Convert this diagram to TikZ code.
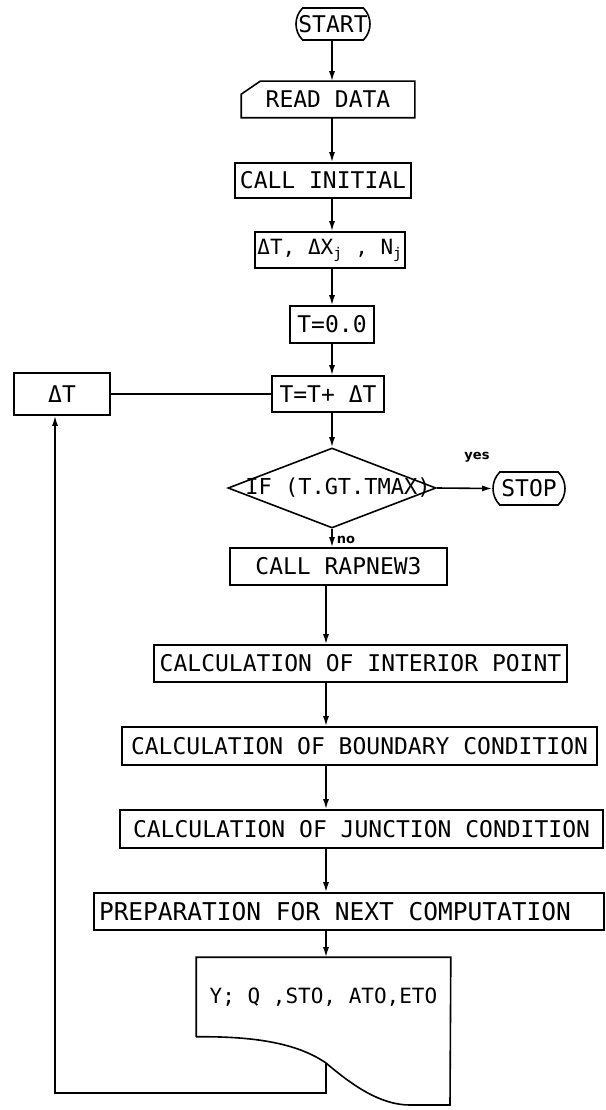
\documentclass[tikz,border=0pt]{standalone}
\usepackage{fontspec}
\setmainfont{DejaVu Sans Mono}
\newfontfamily\handfont{DejaVu Sans}
\usetikzlibrary{arrows.meta,shapes.geometric,shapes.misc}
\begin{document}
\begin{tikzpicture}[x=1pt,y=-1pt,
  wire/.style={line width=1.6pt},
  flow/.style={wire,-{Latex[length=10pt,width=6pt]}},
  box/.style={draw,wire,inner sep=0pt,font=\fontsize{23}{26}\selectfont},
  term/.style={box,rounded rectangle,rounded rectangle arc length=90},
  tag/.style={font=\handfont\bfseries\fontsize{13}{15}\selectfont}]
\useasboundingbox (0,0) rectangle (605,1110);
\coordinate (spine) at (332,0);
\coordinate (lowspine) at (326,0);
\node[term,minimum width=74,minimum height=32] (start) at (333,24) {START};
\node[box,draw=none,minimum width=172,minimum height=35] (read) at (328,99.5) {READ DATA};
\draw[wire] ([yshift=-13pt]read.north west) -- ([xshift=19pt]read.north west)
  -- (read.north east) -- (read.south east) -- (read.south west) -- cycle;
\node[box,minimum width=176,minimum height=35] (init) at (323,180.5) {CALL INITIAL};
\node[box,minimum width=150,minimum height=36,font=\fontsize{21}{24}\selectfont] (steps)
  at (330,250) {ΔT, ΔX\textsubscript{j} , N\textsubscript{j}};
\node[box,minimum width=84,minimum height=37] (tzero) at (332,324.5) {T=0.0};
\node[box,minimum width=112,minimum height=36] (tinc) at (328,394) {T=T+ ΔT};
\node[box,minimum width=96,minimum height=42] (dt) at (62,394) {ΔT};
\node[diamond,draw,wire,inner sep=0pt,minimum width=208,minimum height=80] (cond) at (332,488) {};
\node[font=\fontsize{22}{25}\selectfont] (condtext) at (338,488) {IF (T.GT.TMAX)};
\node[term,minimum width=72,minimum height=33] (stop) at (529,488.5) {STOP};
\node[tag] (yes) at (477,457) {yes};
\node[tag] (no) at (346,540) {no};
\node[box,minimum width=217,minimum height=37] (rap) at (338.5,566.5) {CALL RAPNEW3};
\node[box,minimum width=413,minimum height=37] (inter) at (360.5,663.5) {CALCULATION OF INTERIOR POINT};
\node[box,minimum width=475,minimum height=38] (bound) at (359.5,746) {CALCULATION OF BOUNDARY CONDITION};
\node[box,minimum width=483,minimum height=38] (junc) at (361.5,829) {CALCULATION OF JUNCTION CONDITION};
\node[box,inner xsep=5pt,minimum height=37,font=\fontsize{24.5}{27}\selectfont]
  (prep) at (349,911.5) {\makebox[500pt][l]{PREPARATION FOR NEXT COMPUTATION}};
\node[box,draw=none,minimum width=253,minimum height=78,font=\fontsize{21}{24}\selectfont]
  (out) at (323.5,997) {Y; Q ,STO, ATO,ETO};
\coordinate (wave) at (326,1063);
\coordinate (back) at (55,1093);
\draw[wire] (out.south west) -- (out.north west) -- (out.north east) -- (450,1105) -- (410,1105)
  .. controls (380,1105) and (352,1085) .. (wave)
  .. controls (300,1045) and (260,1036) .. (out.south west);
\draw[flow] (start.south -| spine) -- (read.north -| spine);
\draw[flow] (read.south -| spine) -- (init.north -| spine);
\draw[flow] (init.south -| spine) -- (steps.north -| spine);
\draw[flow] (steps.south -| spine) -- (tzero.north -| spine);
\draw[flow] (tzero.south -| spine) -- (tinc.north -| spine);
\draw[flow] (tinc.south -| spine) -- (cond.north);
\draw[flow] (cond.east) -- (stop.west);
\draw[flow] (cond.south) -- (rap.north -| cond.south);
\draw[flow] (rap.south -| lowspine) -- (inter.north -| lowspine);
\draw[flow] (inter.south -| lowspine) -- (bound.north -| lowspine);
\draw[flow] (bound.south -| lowspine) -- (junc.north -| lowspine);
\draw[flow] (junc.south -| lowspine) -- (prep.north -| lowspine);
\draw[flow] (prep.south -| lowspine) -- (out.north -| lowspine);
\draw[wire] (dt.east) -- (tinc.west);
\draw[flow] (wave) |- (back) -- (back |- dt.south);
\end{tikzpicture}
\end{document}
